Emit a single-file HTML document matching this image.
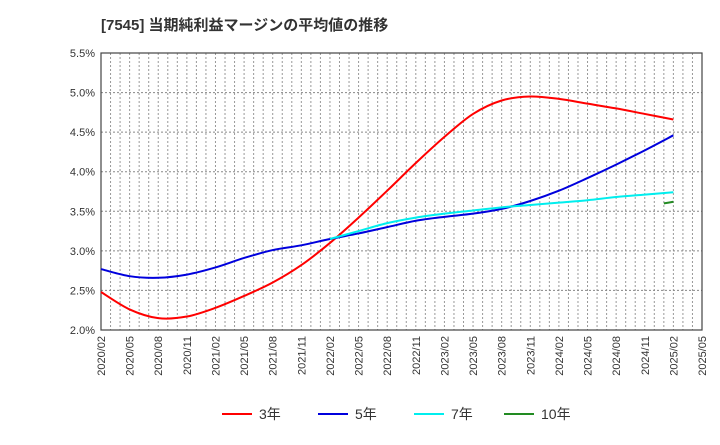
<!DOCTYPE html>
<html><head><meta charset="utf-8"><style>
body{margin:0;background:#fff;font-family:"Liberation Sans","Noto Sans CJK JP",sans-serif}
svg text{font-family:"Liberation Sans","Noto Sans CJK JP",sans-serif}
</style></head><body>
<svg id="c" width="720" height="440" xmlns="http://www.w3.org/2000/svg">
<text x="101" y="30" font-size="15" font-weight="bold" fill="#333">[7545]  当期純利益マージンの平均値の推移</text>
<g id="grid"></g><g id="axes"></g><g id="series"></g><g id="legend"></g>
</svg>
<script>
const xLabels=["2020/02","2020/05","2020/08","2020/11","2021/02","2021/05","2021/08","2021/11","2022/02","2022/05","2022/08","2022/11","2023/02","2023/05","2023/08","2023/11","2024/02","2024/05","2024/08","2024/11","2025/02","2025/05"];
const yTicks=[2.0,2.5,3.0,3.5,4.0,4.5,5.0,5.5];
const s3=[2.48,2.26,2.15,2.17,2.28,2.43,2.60,2.82,3.10,3.42,3.76,4.11,4.44,4.73,4.90,4.95,4.92,4.86,4.80,4.73,4.66];
const s5=[2.77,2.68,2.66,2.70,2.79,2.91,3.01,3.07,3.15,3.22,3.30,3.38,3.43,3.47,3.53,3.63,3.76,3.92,4.09,4.27,4.46];
const s7=[3.15,3.25,3.35,3.42,3.47,3.51,3.55,3.58,3.61,3.64,3.68,3.71,3.74];
const s7Start=8;
const s10=[3.60,3.62];
const s10StartMonth=59;
const L=101,R=702,T=53,B=330,months=63;
const xm=m=>L+m*(R-L)/months;
const y=v=>B-(v-2)*(B-T)/3.5;
const NS="http://www.w3.org/2000/svg";
function mk(p,t,a){const e=document.createElementNS(NS,t);for(const k in a)e.setAttribute(k,a[k]);p.appendChild(e);return e;}
const g=document.getElementById('grid'),ax=document.getElementById('axes'),se=document.getElementById('series'),lg=document.getElementById('legend');
for(let m=1;m<months;m++){const l=mk(g,'line',{x1:xm(m),x2:xm(m),y1:T,y2:B,stroke:'#999','stroke-dasharray':'2,2','stroke-width':1});

}
yTicks.forEach(v=>{const l=mk(g,'line',{x1:L,x2:R,y1:y(v),y2:y(v),stroke:'#888','stroke-dasharray':'2,2','stroke-width':1});


const t=mk(ax,'text',{x:L-6,y:y(v)+4,'text-anchor':'end','font-size':11,fill:'#333'});t.textContent=v.toFixed(1)+'%';

});
xLabels.forEach((s,i)=>{const x=xm(i*3);const t=mk(ax,'text',{transform:`translate(${x+4},${B+6}) rotate(-90)`,'text-anchor':'end','font-size':11,fill:'#333'});t.textContent=s;

});
const fr=mk(ax,'rect',{x:L,y:T,width:R-L,height:B-T,fill:'none',stroke:'#444','stroke-width':1.2});


function line(arr,startM,step,col,name){
const P=arr.map((v,i)=>[xm(startM+i*step),y(v)]);
let d='M'+P[0][0]+','+P[0][1];
for(let i=0;i<P.length-1;i++){const p0=P[i-1]||P[i],p1=P[i],p2=P[i+1],p3=P[i+2]||p2;
const c1=[p1[0]+(p2[0]-p0[0])/6,p1[1]+(p2[1]-p0[1])/6],c2=[p2[0]-(p3[0]-p1[0])/6,p2[1]-(p3[1]-p1[1])/6];
d+=` C${c1[0]},${c1[1]} ${c2[0]},${c2[1]} ${p2[0]},${p2[1]}`;}
const p=mk(se,'path',{d:d,fill:'none',stroke:col,'stroke-width':2,'stroke-linejoin':'round'});

}
line(s3,0,3,'#ff0000','series-3y');
line(s5,0,3,'#0000dd','series-5y');
line(s7,s7Start*3,3,'#00eeee','series-7y');
line(s10,s10StartMonth,1,'#228b22','series-10y');
[['3年','#ff0000',222],['5年','#0000dd',318],['7年','#00eeee',414],['10年','#228b22',504]].forEach(([n,c,x])=>{
const l=mk(lg,'line',{x1:x,x2:x+30,y1:414,y2:414,stroke:c,'stroke-width':2});


const t=mk(lg,'text',{x:x+37,y:419,'font-size':14,fill:'#333'});t.textContent=n;

});
</script>
</body></html>
